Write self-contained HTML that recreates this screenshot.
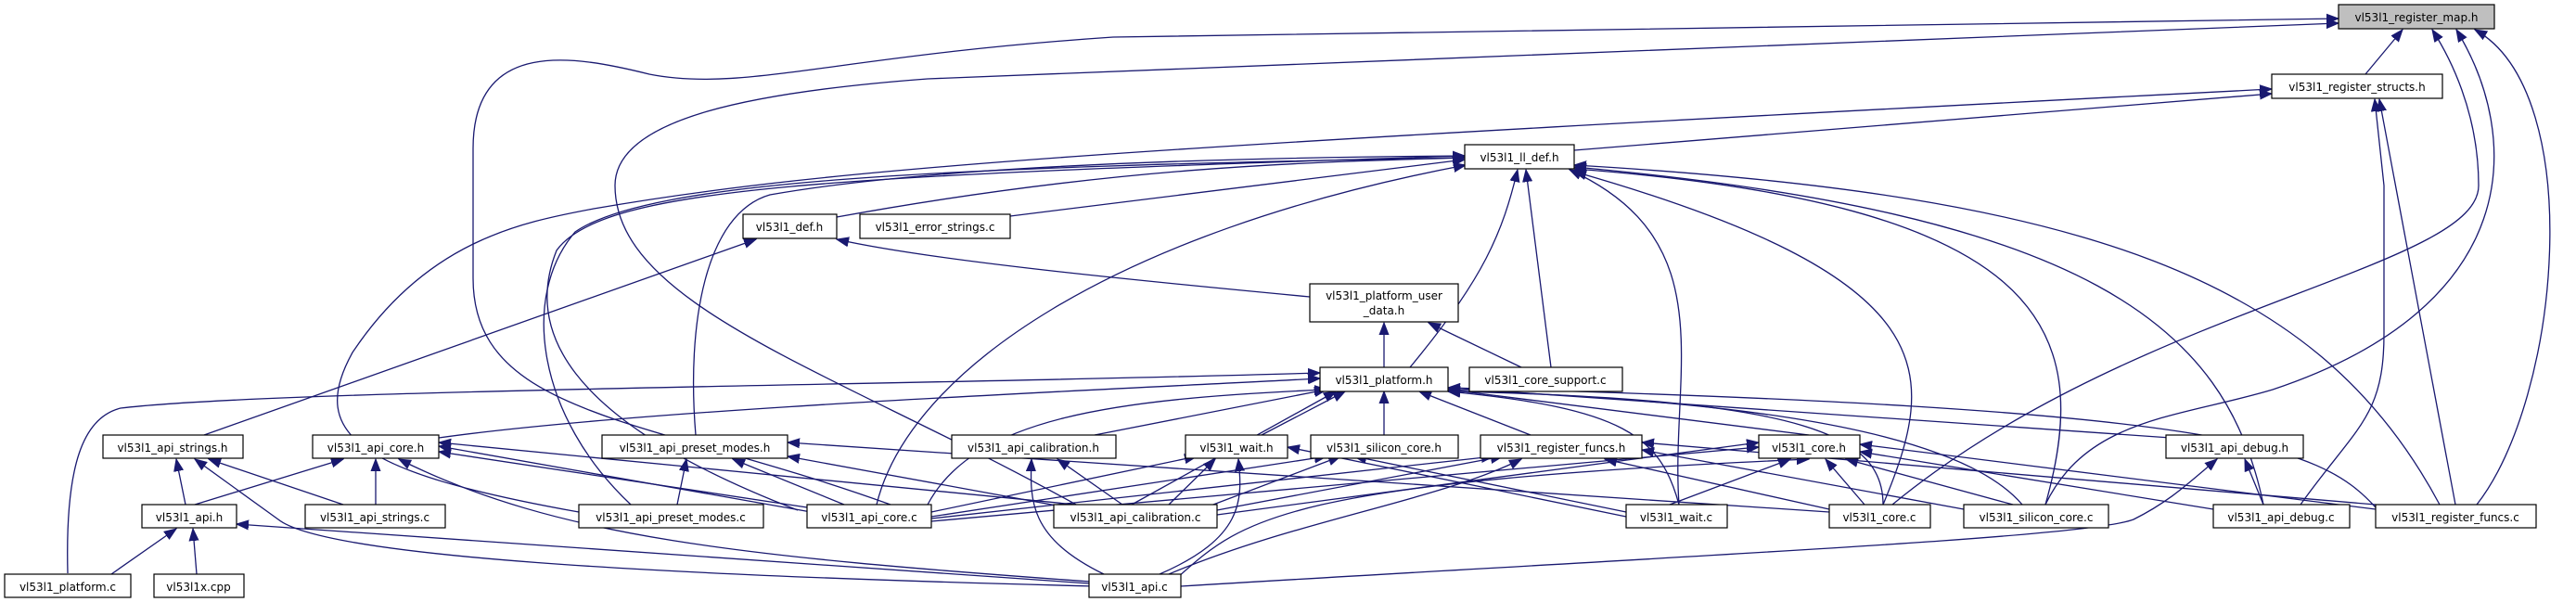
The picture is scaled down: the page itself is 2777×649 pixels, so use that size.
<!DOCTYPE html>
<html><head><meta charset="utf-8"><style>
html,body{margin:0;padding:0;background:#fff;}
svg{display:block;}
text{font-family:"DejaVu Sans","Liberation Sans",sans-serif;font-size:12px;fill:#000;}
.e{fill:none;stroke:#191970;stroke-width:1.3;marker-end:url(#a);}
.n{fill:#fff;stroke:#000;stroke-width:1.2;}
</style></head><body>
<svg width="2777" height="649" viewBox="0 0 2777 649" xmlns="http://www.w3.org/2000/svg">
<defs>
<marker id="a" markerWidth="14" markerHeight="12" refX="13" refY="6" orient="auto" markerUnits="userSpaceOnUse">
<path d="M0,1 L13,6 L0,11 Z" fill="#191970" stroke="#191970"/>
</marker>
</defs>
<g>
<path class="e" d="M2550,80 L2590,32"/>
<path class="e" d="M2040,544 C2300,330 2672,290 2672,200 C2672,120 2640,60 2622,32"/>
<path class="e" d="M2205,544 C2250,450 2350,450 2450,420 C2720,330 2720,150 2648,32"/>
<path class="e" d="M2670,544 C2760,430 2790,100 2668,32"/>
<path class="e" d="M960,544 C700,450 510,450 510,300 L510,160 C510,40 620,60 700,80 C800,100 900,60 1200,40 L2521,20"/>
<path class="e" d="M1160,544 C900,400 663,330 663,200 C663,130 800,100 1000,85 L2521,25"/>
<path class="e" d="M1697,162 L2449,101"/>
<path class="e" d="M624,552 C390,510 330,470 380,380 C460,260 560,240 640,225 C900,180 1200,160 2449,96"/>
<path class="e" d="M2480,544 C2540,460 2570,450 2570,360 L2570,200 L2560,107"/>
<path class="e" d="M2647,544 L2565,107"/>
<path class="e" d="M902,234 C1200,180 1400,175 1579,170"/>
<path class="e" d="M1089,233 L1579,172"/>
<path class="e" d="M750,469 C740,350 760,230 830,210 C1000,180 1300,170 1579,168"/>
<path class="e" d="M860,550 C600,450 568,350 600,270 C650,200 900,190 1579,168"/>
<path class="e" d="M680,544 C580,450 560,320 620,250 C700,195 1000,180 1579,170"/>
<path class="e" d="M945,544 C980,400 1200,250 1580,178"/>
<path class="e" d="M1520,396 C1600,300 1620,250 1636,183"/>
<path class="e" d="M1672,396 L1645,183"/>
<path class="e" d="M1810,544 C1800,400 1860,260 1692,183"/>
<path class="e" d="M2030,544 C2090,400 2100,300 1697,185"/>
<path class="e" d="M2205,544 C2260,350 2200,220 1697,182"/>
<path class="e" d="M2440,544 C2400,350 2250,230 1697,180"/>
<path class="e" d="M2630,544 C2500,300 2250,210 1697,178"/>
<path class="e" d="M220,469 L815,258"/>
<path class="e" d="M1412,320 C1200,300 1000,280 902,258"/>
<path class="e" d="M1492,396 L1492,348"/>
<path class="e" d="M1640,396 L1540,348"/>
<path class="e" d="M473,472 C700,440 1200,420 1423,408"/>
<path class="e" d="M73,618 C70,500 90,450 130,440 C300,420 1000,415 1423,402"/>
<path class="e" d="M1180,469 L1430,420"/>
<path class="e" d="M1360,469 L1450,422"/>
<path class="e" d="M1492,469 L1492,422"/>
<path class="e" d="M1650,469 L1530,422"/>
<path class="e" d="M1950,469 L1561,420"/>
<path class="e" d="M2340,472 L1561,418"/>
<path class="e" d="M2561,547 C2500,480 2400,440 1561,418"/>
<path class="e" d="M2180,544 C2100,450 1800,430 1561,420"/>
<path class="e" d="M2030,544 C2030,470 1950,430 1561,422"/>
<path class="e" d="M1810,544 C1790,470 1750,440 1561,422"/>
<path class="e" d="M1220,544 L1440,422"/>
<path class="e" d="M1000,544 C1050,450 1200,430 1430,420"/>
<path class="e" d="M200,544 L190,495"/>
<path class="e" d="M210,544 L370,495"/>
<path class="e" d="M405,544 L405,495"/>
<path class="e" d="M370,544 L225,495"/>
<path class="e" d="M730,544 L740,495"/>
<path class="e" d="M910,544 L790,495"/>
<path class="e" d="M870,547 L473,487"/>
<path class="e" d="M880,553 L473,481"/>
<path class="e" d="M1160,544 L473,477"/>
<path class="e" d="M1150,547 L849,492"/>
<path class="e" d="M1972,552 L849,477"/>
<path class="e" d="M1210,544 L1140,495"/>
<path class="e" d="M1190,619 C1110,580 1110,540 1112,495"/>
<path class="e" d="M1180,632 C700,620 350,600 300,560 L210,495"/>
<path class="e" d="M1175,627 C800,600 600,580 430,495"/>
<path class="e" d="M1174,629 L255,565"/>
<path class="e" d="M1004,552 L1290,492"/>
<path class="e" d="M1260,544 L1310,495"/>
<path class="e" d="M1250,619 C1340,580 1340,540 1335,495"/>
<path class="e" d="M1753,557 L1388,482"/>
<path class="e" d="M1004,557 L1430,492"/>
<path class="e" d="M1300,547 L1445,492"/>
<path class="e" d="M1753,552 L1460,492"/>
<path class="e" d="M1004,559 L1610,492"/>
<path class="e" d="M1312,550 L1620,492"/>
<path class="e" d="M1260,619 C1400,560 1550,540 1640,495"/>
<path class="e" d="M1972,549 L1730,495"/>
<path class="e" d="M2117,549 L1770,485"/>
<path class="e" d="M1004,562 L1896,482"/>
<path class="e" d="M1312,555 L1896,477"/>
<path class="e" d="M1800,544 L1930,495"/>
<path class="e" d="M2010,544 L1968,495"/>
<path class="e" d="M2170,544 L1990,495"/>
<path class="e" d="M1270,622 C1340,560 1380,520 1950,495"/>
<path class="e" d="M2386,549 L2005,487"/>
<path class="e" d="M2561,549 L2005,479"/>
<path class="e" d="M2440,544 L2420,495"/>
<path class="e" d="M1273,632 C1800,600 2250,580 2300,560 C2340,540 2360,520 2390,495"/>
<path class="e" d="M2561,544 L1770,477"/>
<path class="e" d="M120,619 L190,570"/>
<path class="e" d="M212,619 L208,570"/>
</g>
<g>
<rect class="n" x="2521" y="5" width="168" height="26" style="fill:#bfbfbf"/><text x="2605" y="23" text-anchor="middle">vl53l1_register_map.h</text>
<rect class="n" x="2449" y="80" width="184" height="26"/><text x="2541" y="98" text-anchor="middle">vl53l1_register_structs.h</text>
<rect class="n" x="1579" y="156" width="118" height="26"/><text x="1638" y="174" text-anchor="middle">vl53l1_ll_def.h</text>
<rect class="n" x="801" y="231" width="101" height="26"/><text x="851" y="249" text-anchor="middle">vl53l1_def.h</text>
<rect class="n" x="927" y="231" width="162" height="26"/><text x="1008" y="249" text-anchor="middle">vl53l1_error_strings.c</text>
<rect class="n" x="1412" y="306" width="160" height="41"/><text x="1492" y="323" text-anchor="middle">vl53l1_platform_user</text><text x="1492" y="339" text-anchor="middle">_data.h</text>
<rect class="n" x="1423" y="396" width="138" height="26"/><text x="1492" y="414" text-anchor="middle">vl53l1_platform.h</text>
<rect class="n" x="1584" y="396" width="165" height="26"/><text x="1666" y="414" text-anchor="middle">vl53l1_core_support.c</text>
<rect class="n" x="111" y="469" width="151" height="25"/><text x="186" y="487" text-anchor="middle">vl53l1_api_strings.h</text>
<rect class="n" x="337" y="469" width="136" height="25"/><text x="405" y="487" text-anchor="middle">vl53l1_api_core.h</text>
<rect class="n" x="649" y="469" width="200" height="25"/><text x="749" y="487" text-anchor="middle">vl53l1_api_preset_modes.h</text>
<rect class="n" x="1026" y="469" width="177" height="25"/><text x="1114" y="487" text-anchor="middle">vl53l1_api_calibration.h</text>
<rect class="n" x="1278" y="469" width="110" height="25"/><text x="1333" y="487" text-anchor="middle">vl53l1_wait.h</text>
<rect class="n" x="1413" y="469" width="159" height="25"/><text x="1492" y="487" text-anchor="middle">vl53l1_silicon_core.h</text>
<rect class="n" x="1596" y="469" width="174" height="25"/><text x="1683" y="487" text-anchor="middle">vl53l1_register_funcs.h</text>
<rect class="n" x="1896" y="469" width="109" height="25"/><text x="1950" y="487" text-anchor="middle">vl53l1_core.h</text>
<rect class="n" x="2335" y="469" width="148" height="25"/><text x="2409" y="487" text-anchor="middle">vl53l1_api_debug.h</text>
<rect class="n" x="153" y="544" width="102" height="25"/><text x="204" y="562" text-anchor="middle">vl53l1_api.h</text>
<rect class="n" x="329" y="544" width="151" height="25"/><text x="404" y="562" text-anchor="middle">vl53l1_api_strings.c</text>
<rect class="n" x="624" y="544" width="199" height="25"/><text x="723" y="562" text-anchor="middle">vl53l1_api_preset_modes.c</text>
<rect class="n" x="870" y="544" width="134" height="25"/><text x="937" y="562" text-anchor="middle">vl53l1_api_core.c</text>
<rect class="n" x="1136" y="544" width="176" height="25"/><text x="1224" y="562" text-anchor="middle">vl53l1_api_calibration.c</text>
<rect class="n" x="1753" y="544" width="109" height="25"/><text x="1807" y="562" text-anchor="middle">vl53l1_wait.c</text>
<rect class="n" x="1972" y="544" width="109" height="25"/><text x="2026" y="562" text-anchor="middle">vl53l1_core.c</text>
<rect class="n" x="2117" y="544" width="156" height="25"/><text x="2195" y="562" text-anchor="middle">vl53l1_silicon_core.c</text>
<rect class="n" x="2386" y="544" width="147" height="25"/><text x="2459" y="562" text-anchor="middle">vl53l1_api_debug.c</text>
<rect class="n" x="2561" y="544" width="173" height="25"/><text x="2647" y="562" text-anchor="middle">vl53l1_register_funcs.c</text>
<rect class="n" x="5" y="619" width="136" height="25"/><text x="73" y="637" text-anchor="middle">vl53l1_platform.c</text>
<rect class="n" x="166" y="619" width="97" height="25"/><text x="214" y="637" text-anchor="middle">vl53l1x.cpp</text>
<rect class="n" x="1174" y="619" width="99" height="25"/><text x="1223" y="637" text-anchor="middle">vl53l1_api.c</text>
</g>
</svg>
</body></html>
